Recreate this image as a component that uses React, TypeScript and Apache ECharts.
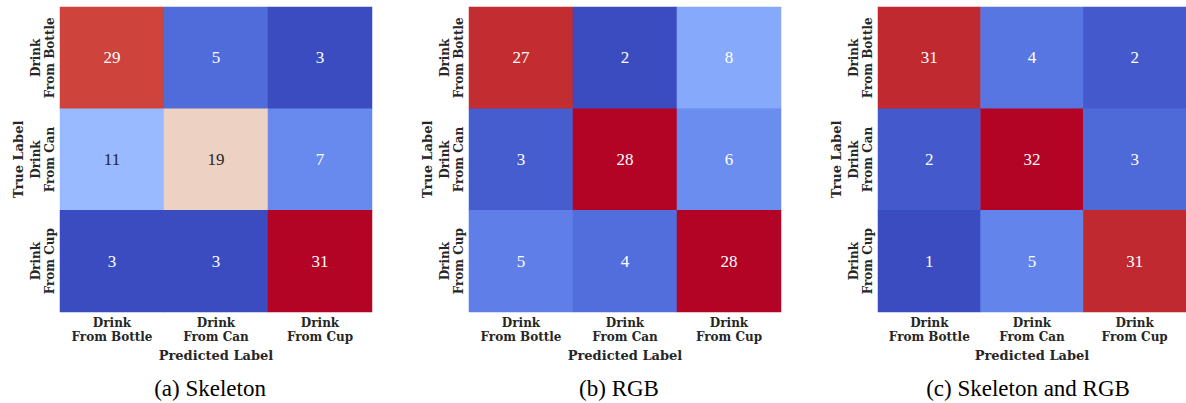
import React, { useEffect, useRef } from "react";
import * as echarts from "echarts";

const categories = ["Drink\nFrom Bottle", "Drink\nFrom Can", "Drink\nFrom Cup"];
const captions = ["(a) Skeleton", "(b) RGB", "(c) Skeleton and RGB"];
// rows = true label, columns = predicted label
const skeleton = [
  [29, 5, 3],
  [11, 19, 7],
  [3, 3, 31],
];
const rgb = [
  [27, 2, 8],
  [3, 28, 6],
  [5, 4, 28],
];
const skeletonRgb = [
  [31, 4, 2],
  [2, 32, 3],
  [1, 5, 31],
];
const matrices = [skeleton, rgb, skeletonRgb];

const coolwarm: number[][] = [
  [59, 76, 192], [68, 90, 204], [77, 104, 215], [87, 117, 225], [98, 130, 234],
  [108, 142, 241], [119, 154, 247], [130, 165, 251], [141, 176, 254], [152, 185, 255],
  [163, 194, 255], [174, 201, 253], [184, 208, 249], [194, 213, 244], [204, 217, 238],
  [213, 219, 230], [221, 221, 221], [229, 216, 209], [236, 211, 197], [241, 204, 185],
  [245, 196, 173], [247, 187, 160], [247, 177, 148], [247, 166, 135], [244, 154, 123],
  [241, 141, 111], [236, 127, 99], [229, 112, 88], [222, 96, 77], [213, 80, 66],
  [203, 62, 56], [192, 40, 47], [180, 4, 38],
];
const coolwarmHex = coolwarm.map(
  (c) => "#" + c.map((v) => v.toString(16).padStart(2, "0")).join("")
);

function cmap(t: number): number[] {
  const x = Math.max(0, Math.min(1, t)) * (coolwarm.length - 1);
  const i = Math.min(coolwarm.length - 2, Math.floor(x));
  const f = x - i;
  return coolwarm[i].map((v, k) => v + (coolwarm[i + 1][k] - v) * f);
}
function textColorFor(t: number): string {
  const [r, g, b] = cmap(t).map((v) => {
    const c = v / 255;
    return c <= 0.03928 ? c / 12.92 : Math.pow((c + 0.055) / 1.055, 2.4);
  });
  const lum = 0.2126 * r + 0.7152 * g + 0.0722 * b;
  return lum > 0.408 ? "#262626" : "#ffffff";
}

const gridLefts = [60, 469, 878];
const captionX = [210, 619, 1028];
const SERIF = "Liberation Serif";
const BOLD_SERIF = "DejaVu Serif";

export default function App() {
  const ref = useRef<HTMLDivElement>(null);
  useEffect(() => {
    document.body.style.margin = "0";
    const chart = echarts.init(ref.current!, null, { renderer: "svg" });
    const grids = gridLefts.map((left) => ({ left, top: 7, width: 312, height: 305 }));
    const xAxes = gridLefts.map((_, i) => ({
      type: "category",
      gridIndex: i,
      data: categories,
      position: "bottom",
      axisLine: { show: false },
      axisTick: { show: false },
      splitLine: { show: false },
      axisLabel: {
        fontFamily: BOLD_SERIF,
        fontWeight: "bold",
        fontSize: 12,
        lineHeight: 14,
        color: "#262626",
        margin: 4,
        interval: 0,
      },
      name: "Predicted Label",
      nameLocation: "middle",
      nameGap: 37,
      nameTextStyle: { fontFamily: BOLD_SERIF, fontWeight: "bold", fontSize: 13, color: "#262626" },
    }));
    const yAxes = gridLefts.map((_, i) => ({
      type: "category",
      gridIndex: i,
      data: categories,
      inverse: true,
      axisLine: { show: false },
      axisTick: { show: false },
      splitLine: { show: false },
      axisLabel: {
        fontFamily: BOLD_SERIF,
        fontWeight: "bold",
        fontSize: 12,
        lineHeight: 14,
        color: "#262626",
        margin: 3,
        rotate: 90,
        interval: 0,
      },
      name: "True Label",
      nameLocation: "middle",
      nameGap: 35,
      nameTextStyle: { fontFamily: BOLD_SERIF, fontWeight: "bold", fontSize: 13, color: "#262626" },
    }));
    const series = matrices.map((m, i) => {
      const flat = m.flat();
      const mn = Math.min(...flat);
      const mx = Math.max(...flat);
      const data: any[] = [];
      m.forEach((row, r) =>
        row.forEach((v, c) => {
          data.push({
            value: [c, r, v],
            label: { color: textColorFor((v - mn) / (mx - mn)) },
          });
        })
      );
      return {
        type: "heatmap",
        xAxisIndex: i,
        yAxisIndex: i,
        data,
        label: {
          show: true,
          formatter: (p: any) => String(p.value[2]),
          fontFamily: SERIF,
          fontSize: 17,
        },
        itemStyle: { borderWidth: 0 },
        emphasis: { disabled: true },
      };
    });
    const visualMaps = matrices.map((m, i) => {
      const flat = m.flat();
      return {
        type: "continuous",
        show: false,
        seriesIndex: i,
        dimension: 2,
        min: Math.min(...flat),
        max: Math.max(...flat),
        inRange: { color: coolwarmHex },
      };
    });
    chart.setOption({
      animation: false,
      backgroundColor: "#ffffff",
      grid: grids,
      xAxis: xAxes,
      yAxis: yAxes,
      visualMap: visualMaps,
      series,
      graphic: captions.map((t, i) => ({
        type: "text",
        x: captionX[i],
        y: 388,
        style: {
          text: t,
          fontFamily: SERIF,
          fontSize: 23,
          fill: "#000000",
          textAlign: "center",
          textVerticalAlign: "middle",
        },
      })),
    });
    return () => chart.dispose();
  }, []);
  return <div ref={ref} style={{ width: 1186, height: 403 }} />;
}
